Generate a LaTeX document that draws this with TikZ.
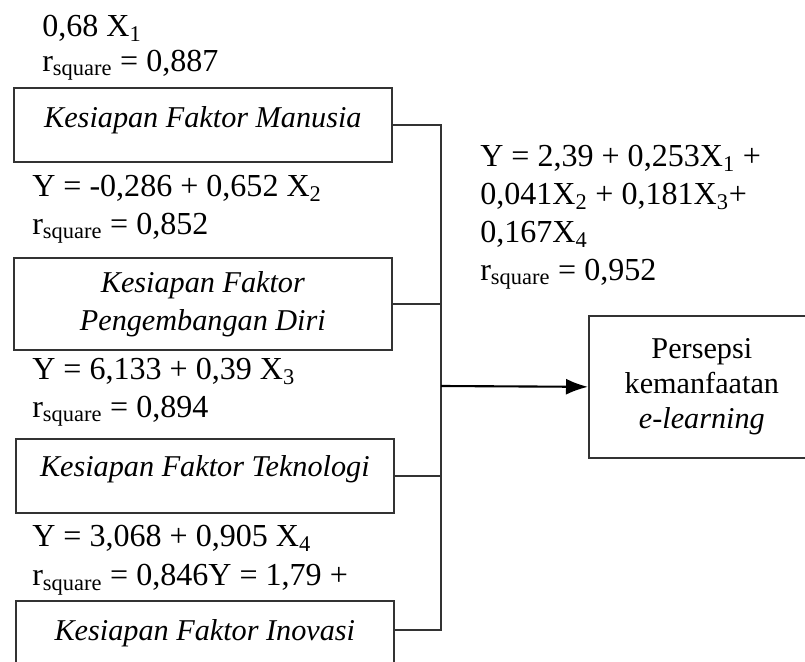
\documentclass[tikz,border=0pt]{standalone}
\usepackage{fontspec}
\setmainfont{Liberation Serif}
\usepackage{tikz}
\usetikzlibrary{arrows.meta,positioning,calc}
\definecolor{abugelap}{HTML}{333333}

\begin{document}
\begin{tikzpicture}[x=1cm,y=1cm, font=\fontsize{22.8}{27}\selectfont,
  kotak/.style={draw=abugelap, line width=1.2pt, inner sep=0pt, minimum width=9.45cm},
  ket/.style={anchor=north west, inner sep=0pt, align=left},
  garis/.style={draw=abugelap, line width=1.2pt}]
  \useasboundingbox (0,0) rectangle (20.125,-16.55);
  % variabel X
  \node[kotak, anchor=north west, font=\fontsize{21.5}{27}\selectfont\itshape, text height=1.0cm, text depth=0.85cm] (manusia) at (0.325,-2.175) {Kesiapan Faktor Manusia};
  \node[kotak, anchor=north west, font=\fontsize{21.5}{27}\selectfont\itshape, align=center, minimum height=2.3cm] (diri) at (0.325,-6.425) {Kesiapan Faktor\\Pengembangan Diri};
  \node[kotak, anchor=north west, font=\fontsize{21.5}{27}\selectfont\itshape, text height=0.95cm, text depth=0.9cm] (teknologi) at (0.375,-10.95) {Kesiapan Faktor Teknologi};
  \node[kotak, anchor=north west, font=\fontsize{21.5}{27}\selectfont\itshape, text height=1.0cm, text depth=0.85cm] (inovasi) at (0.375,-15.0) {Kesiapan Faktor Inovasi};
  % variabel Y
  \node[kotak, anchor=north west, font=\fontsize{21.5}{25}\selectfont, align=center, minimum width=5.65cm, minimum height=3.55cm] (persepsi) at (14.7,-7.875) {Persepsi\\kemanfaatan\\\textit{e-learning}};
  \coordinate (jn) at (11.025,-9.65);
  % persamaan regresi
  \node[ket, font=\fontsize{22.8}{24.8}\selectfont] (reg1) at (1.05,-0.375) {0,68 X\textsubscript{1}\\r\textsubscript{square} = 0,887};
  \node[ket] (reg2) at (0.8,-4.375) {Y = -0,286 + 0,652 X\textsubscript{2}\\r\textsubscript{square} = 0,852};
  \node[ket] (reg3) at (0.8,-8.95) {Y = 6,133 + 0,39 X\textsubscript{3}\\r\textsubscript{square} = 0,894};
  \node[ket, font=\fontsize{22.8}{28}\selectfont] (reg4) at (0.8,-13.125) {Y = 3,068 + 0,905 X\textsubscript{4}\\r\textsubscript{square} = 0,846Y = 1,79 +};
  \node[ket] (regall) at (12.0,-3.625) {Y = 2,39 + 0,253X\textsubscript{1} +\\0,041X\textsubscript{2} + 0,181X\textsubscript{3}+\\0,167X\textsubscript{4}\\r\textsubscript{square} = 0,952};
  % garis penghubung
  \draw[garis] (manusia.east) -| (jn);
  \draw[garis] (diri.east) -| (jn);
  \draw[garis] (teknologi.east) -| (jn);
  \draw[garis] ([yshift=2mm]inovasi.east) -| (jn);
  \draw[garis, draw=black, line width=1.5pt, -{Latex[length=5.5mm,width=4mm]}] (jn) -- (persepsi.west);
\end{tikzpicture}
\end{document}
